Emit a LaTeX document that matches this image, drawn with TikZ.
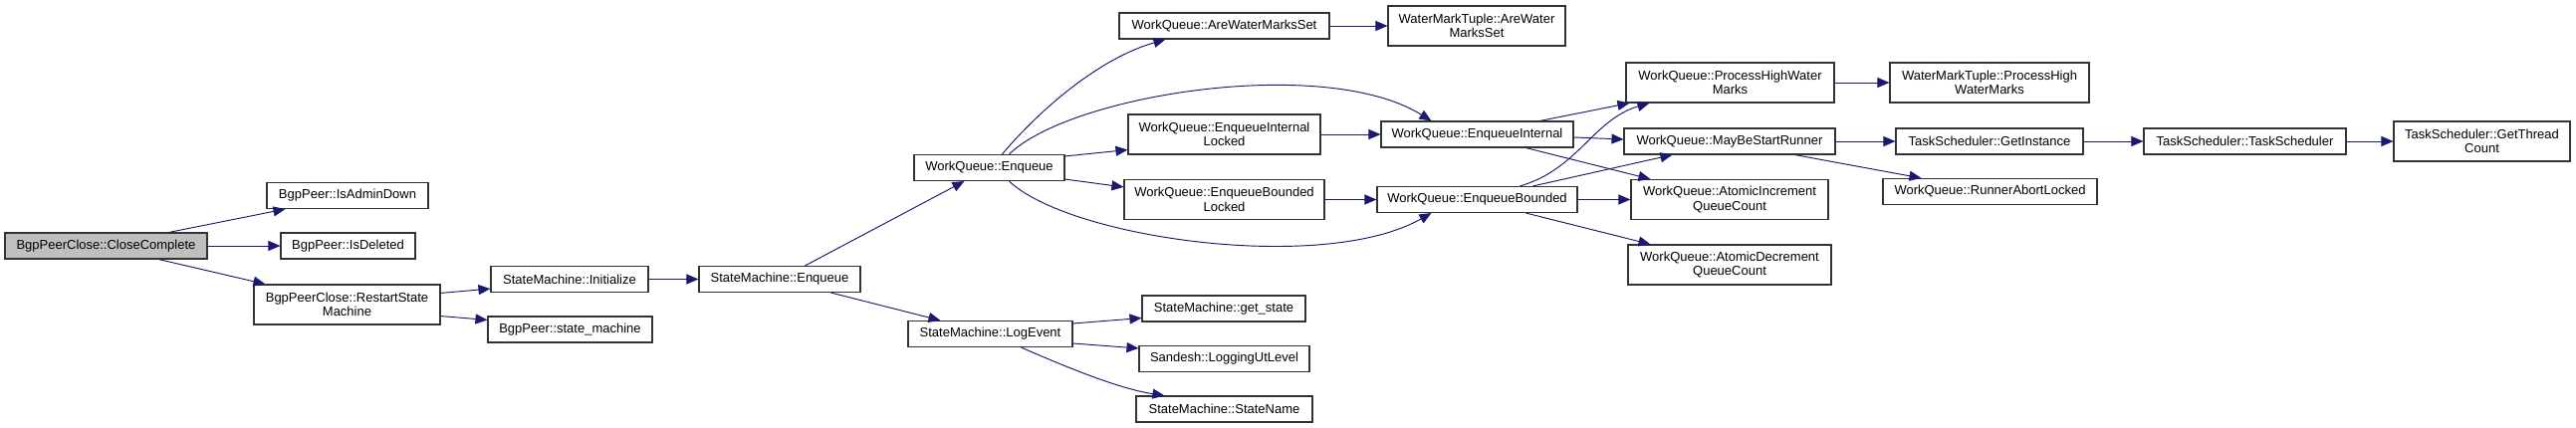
\documentclass[tikz,border=0pt]{standalone}
\usepackage{fontspec}
\setmainfont{Liberation Sans}
\usetikzlibrary{arrows.meta,calc}
\definecolor{edgec}{HTML}{191970}
\definecolor{boxc}{HTML}{333333}
\definecolor{curfill}{HTML}{BFBFBF}
\begin{document}
\begin{tikzpicture}[x=1pt,y=-1pt,
  box/.style 2 args={draw=boxc, line width=1.1pt, fill=white, inner sep=0pt,
    font=\fontsize{13}{14.7}\selectfont, align=center,
    minimum width=#1pt, minimum height=#2pt},
  edg/.style={draw=edgec, line width=0.95pt, -{Triangle[length=12pt,width=10pt]}}]
\fill[white] (0,0) rectangle (2587,430);
\useasboundingbox (0,0) rectangle (2587,430);
% nodes
\node[box={203}{26}, fill=curfill] (cc) at (106.5,247) {BgpPeerClose::CloseComplete};
\node[box={162}{26}] (adm) at (349,196.5) {BgpPeer::IsAdminDown};
\node[box={135}{26}] (del) at (349.5,247) {BgpPeer::IsDeleted};
\node[box={187}{40}] (rsm) at (348.5,306) {BgpPeerClose::RestartState\\Machine};
\node[box={158}{26}] (ini) at (572,280.5) {StateMachine::Initialize};
\node[box={165}{26}] (stm) at (572.5,331) {BgpPeer::state\_machine};
\node[box={162}{26}] (sme) at (783,280.5) {StateMachine::Enqueue};
\node[box={151}{26}] (wqe) at (993.5,168.5) {WorkQueue::Enqueue};
\node[box={165}{26}] (log) at (994.5,335.5) {StateMachine::LogEvent};
\node[box={211}{26}] (awm) at (1229.5,26) {WorkQueue::AreWaterMarksSet};
\node[box={178}{40}] (wawm) at (1483,26) {WaterMarkTuple::AreWater\\MarksSet};
\node[box={193}{40}] (eil) at (1229.5,135) {WorkQueue::EnqueueInternal\\Locked};
\node[box={201}{40}] (ebl) at (1229.5,200.5) {WorkQueue::EnqueueBounded\\Locked};
\node[box={193}{26}] (ei) at (1483.5,135) {WorkQueue::EnqueueInternal};
\node[box={201}{26}] (eb) at (1483.5,200.5) {WorkQueue::EnqueueBounded};
\node[box={164}{26}] (gs) at (1229,310) {StateMachine::get\_state};
\node[box={171}{26}] (lul) at (1229.5,360.5) {Sandesh::LoggingUtLevel};
\node[box={177}{26}] (sn) at (1229.5,411) {StateMachine::StateName};
\node[box={209}{40}] (phw) at (1737.5,83) {WorkQueue::ProcessHighWater\\Marks};
\node[box={200}{40}] (wphw) at (1998,83) {WaterMarkTuple::ProcessHigh\\WaterMarks};
\node[box={212}{26}] (msr) at (1737,142) {WorkQueue::MayBeStartRunner};
\node[box={188}{26}] (gin) at (1998,142) {TaskScheduler::GetInstance};
\node[box={203}{26}] (ts) at (2254.5,142) {TaskScheduler::TaskScheduler};
\node[box={177}{40}] (gtc) at (2492.5,142) {TaskScheduler::GetThread\\Count};
\node[box={215}{26}] (ral) at (1998.5,192.5) {WorkQueue::RunnerAbortLocked};
\node[box={198}{40}] (aic) at (1737,200.5) {WorkQueue::AtomicIncrement\\QueueCount};
\node[box={204}{40}] (adc) at (1737,266) {WorkQueue::AtomicDecrement\\QueueCount};
% edges
\draw[edg] ($(cc.north west)+(165,0)$) -- ($(adm.south west)+(19,0)$);
\draw[edg] (cc.east) -- (del.west);
\draw[edg] ($(cc.south west)+(155,0)$) -- ($(rsm.north west)+(12,0)$);
\draw[edg] ($(rsm.north east)+(0,9)$) -- ($(ini.south west)+(0,-4)$);
\draw[edg] ($(rsm.south east)+(0,-9)$) -- ($(stm.north west)+(0,4)$);
\draw[edg] (ini.east) -- (sme.west);
\draw[edg] ($(sme.north west)+(107,0)$) -- ($(wqe.south west)+(51,0)$);
\draw[edg] ($(sme.south west)+(133,0)$) -- ($(log.north west)+(33,0)$);
\draw[edg] ($(wqe.north west)+(89,0)$) .. controls (1040,115) and (1100,60) .. ($(awm.south west)+(47,0)$);
\draw[edg] ($(wqe.north west)+(96,0)$) .. controls (1075,95) and (1330,55) .. ($(ei.north west)+(51,0)$);
\draw[edg] ($(wqe.north east)+(0,2)$) -- ($(eil.south west)+(0,-5)$);
\draw[edg] ($(wqe.south east)+(0,-2)$) -- ($(ebl.north west)+(0,8)$);
\draw[edg] ($(wqe.south west)+(96,0)$) .. controls (1075,240) and (1330,275) .. ($(eb.south west)+(55,0)$);
\draw[edg] (eil.east) -- (ei.west);
\draw[edg] (ebl.east) -- (eb.west);
\draw[edg] (awm.east) -- (wawm.west);
\draw[edg] ($(ei.north west)+(160,0)$) -- ($(phw.south west)+(4,0)$);
\draw[edg] ($(ei.east)+(0,3)$) -- ($(msr.west)+(0,-2)$);
\draw[edg] ($(ei.south west)+(146,0)$) -- ($(aic.north west)+(20,0)$);
\draw[edg] ($(eb.north west)+(144,0)$) .. controls (1585,170) and (1600,120) .. ($(phw.south west)+(24,0)$);
\draw[edg] ($(eb.north west)+(157,0)$) -- ($(msr.south west)+(49,0)$);
\draw[edg] (eb.east) -- (aic.west);
\draw[edg] ($(eb.south west)+(150,0)$) -- ($(adc.north west)+(23,0)$);
\draw[edg] (phw.east) -- (wphw.west);
\draw[edg] (msr.east) -- (gin.west);
\draw[edg] ($(msr.south west)+(172,0)$) -- ($(ral.north west)+(39,0)$);
\draw[edg] (gin.east) -- (ts.west);
\draw[edg] (ts.east) -- (gtc.west);
\draw[edg] ($(log.north east)+(0,3)$) -- ($(gs.south west)+(0,-4)$);
\draw[edg] ($(log.south east)+(0,-4)$) -- ($(lul.north west)+(0,3)$);
\draw[edg] ($(log.south west)+(114,0)$) .. controls (1060,364) and (1120,390) .. ($(sn.north west)+(29,0)$);
\end{tikzpicture}
\end{document}
